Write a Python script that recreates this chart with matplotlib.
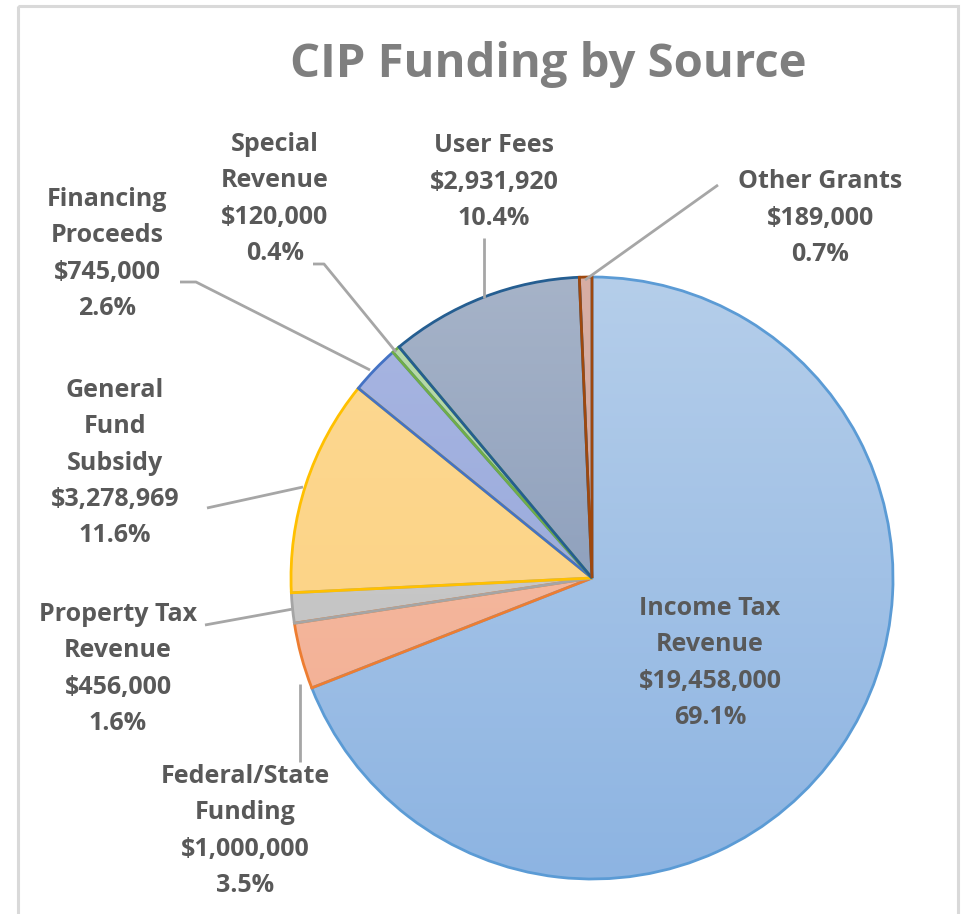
import matplotlib
matplotlib.use("Agg")
import matplotlib.pyplot as plt
import numpy as np
from matplotlib.colors import LinearSegmentedColormap
from matplotlib.patches import Rectangle

categories = ["Income Tax\nRevenue", "Federal/State\nFunding", "Property Tax\nRevenue",
              "General\nFund\nSubsidy", "Financing\nProceeds", "Special\nRevenue",
              "User Fees", "Other Grants"]
values = [19458000, 1000000, 456000, 3278969, 745000, 120000, 2931920, 189000]
pct_labels = ["69.1%", "3.5%", "1.6%", "11.6%", "2.6%", "0.4%", "10.4%", "0.7%"]

fill_top = ["#B5CEEA", "#F6C0A8", "#D0D0D0", "#FDD993", "#A9B6E2", "#B9DAAB", "#A6B3C8", "#D8AEA4"]
fill_bot = ["#8DB4E2", "#F2AC90", "#BDBDBD", "#FCD07E", "#8FA3D8", "#A7CF96", "#7A90B3", "#CDA096"]
edges = ["#5B9BD5", "#ED7D31", "#A5A5A5", "#FFC000", "#4472C4", "#70AD47", "#255E91", "#9E480E"]

W, H = 961, 914
fig = plt.figure(figsize=(W / 100, H / 100), dpi=100)
ax = fig.add_axes([0, 0, 1, 1])
ax.set_xlim(0, W)
ax.set_ylim(H, 0)
ax.axis("off")

# chart border
ax.add_patch(Rectangle((18, 6), 940, 920, fill=False, edgecolor="#D9D9D9", linewidth=2.2, zorder=0))

cx, cy, r = 592, 578, 301
wedges, _ = ax.pie(values, startangle=-90, counterclock=True, center=(cx, cy), radius=r,
                   frame=True, wedgeprops=dict(linewidth=2.0))
ax.set_xlim(0, W)
ax.set_ylim(H, 0)
ax.set_aspect("equal")
ax.axis("off")

grad = np.linspace(0, 1, 256).reshape(-1, 1)
for w, t, b, e in zip(wedges, fill_top, fill_bot, edges):
    w.set_facecolor("none")
    w.set_edgecolor(e)
    w.set_zorder(3)
    cmap = LinearSegmentedColormap.from_list("g", [t, b])
    im = ax.imshow(grad, cmap=cmap, extent=(cx - r, cx + r, cy + r, cy - r), aspect="auto", zorder=2)
    im.set_clip_path(w)

ax.set_xlim(0, W)
ax.set_ylim(H, 0)

txt_color = "#595959"
fam = ["Open Sans", "DejaVu Sans"]
fs = 18

def fmt(v):
    return "${:,}".format(v)

label_pos = [(710, 663), (245, 831), (118, 669), (115, 463), (107, 254), (275, 199), (494, 182), (820, 218)]
for cat, v, p, (x, y) in zip(categories, values, pct_labels, label_pos):
    ax.text(x, y, f"{cat}\n{fmt(v)}\n{p}", ha="center", va="center", fontsize=fs,
            fontweight="bold", color=txt_color, family=fam, linespacing=1.6, zorder=5)

lc = "#A6A6A6"
leaders = [
    [(300, 684), (300, 762)],
    [(205, 625), (293, 609)],
    [(207, 508), (303, 487)],
    [(180, 282), (196, 282), (370, 370)],
    [(313, 264), (324, 264), (396, 352)],
    [(484, 238), (484, 298)],
    [(718, 185), (585, 280)],
]
for pts in leaders:
    xs, ys = zip(*pts)
    ax.plot(xs, ys, color=lc, linewidth=2.0, zorder=4, solid_capstyle="butt")

ax.text(548, 64, "CIP Funding by Source", ha="center", va="center", fontsize=34,
        fontweight="bold", color="#7F7F7F", family=fam)

fig.savefig("out.png", dpi=100)
